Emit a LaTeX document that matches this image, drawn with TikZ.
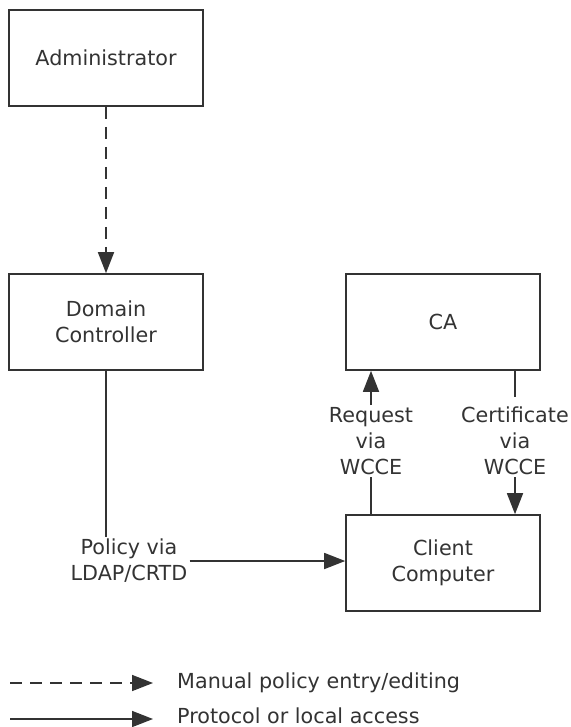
\documentclass[tikz,border=0pt]{standalone}
\usepackage{fontspec}
\setmainfont{DejaVu Sans}
\usetikzlibrary{arrows.meta}
\definecolor{ink}{gray}{0.2}
\begin{document}
\begin{tikzpicture}[x=1pt,y=-1pt,
  font=\fontsize{20.7}{26}\selectfont,
  box/.style={draw=ink,line width=1.6pt,minimum width=194pt,minimum height=96pt,inner sep=0pt,text=ink,align=center},
  lbl/.style={text=ink,align=center,inner sep=2pt},
  conn/.style={draw=ink,line width=1.6pt},
  arr/.style={conn,-{Triangle[length=21pt,width=16pt]}},
  dasharr/.style={arr,dash pattern=on 12pt off 8pt}]
\useasboundingbox (0,0) rectangle (570,727);
\node[box] (admin) at (106,58) {Administrator};
\node[box] (dc) at (106,322) {Domain\\Controller};
\node[box] (ca) at (443,322) {CA};
\node[box] (client) at (443,563) {Client\\Computer};
\draw[dasharr] (admin) -- (dc);
\node[lbl] (pol) at (129,561) {Policy via\\LDAP/CRTD};
\draw[conn] (dc) -- (dc.south |- pol.north);
\draw[arr] (pol.east) -- (pol.east -| client.west);
\node[lbl] (req) at (371,441) {Request\\via\\WCCE};
\draw[conn] (client.north -| req.south) -- (req.south);
\draw[arr] (req.north) -- (ca.south -| req.north);
\node[lbl] (cert) at (515,441) {Certificate\\via\\WCCE};
\draw[conn] (ca.south -| cert.north) -- ([yshift=8pt]cert.north);
\draw[arr] (cert.south) -- (client.north -| cert.south);
\coordinate (l1a) at (10,683);
\coordinate (l1b) at (153,683);
\coordinate (l2a) at (10,719);
\coordinate (l2b) at (153,719);
\draw[dasharr] (l1a) -- (l1b);
\draw[arr] (l2a) -- (l2b);
\node[lbl,anchor=base west,inner sep=0pt] (leg1) at (177,688) {Manual policy entry/editing};
\node[lbl,anchor=base west,inner sep=0pt] (leg2) at (177,723) {Protocol or local access};
\end{tikzpicture}
\end{document}
